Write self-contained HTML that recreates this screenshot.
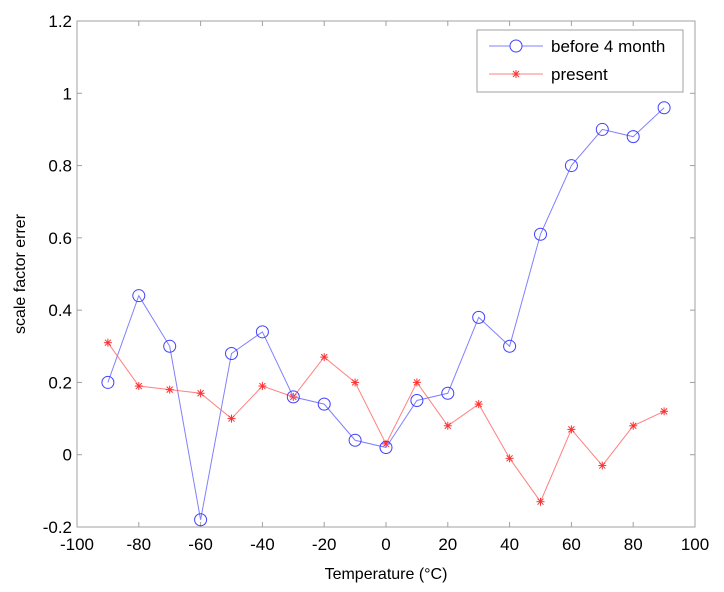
<!DOCTYPE html>
<html><head><meta charset="utf-8"><style>
body{margin:0;background:#fff;}
svg{display:block;font-family:"Liberation Sans",Arial,sans-serif;}
</style></head><body>
<svg id="chart" width="724" height="592"></svg>
<script>
const xTicks=[-100,-80,-60,-40,-20,0,20,40,60,80,100];
const yTicks=[-0.2,0,0.2,0.4,0.6,0.8,1,1.2];
const temps=[-90,-80,-70,-60,-50,-40,-30,-20,-10,0,10,20,30,40,50,60,70,80,90];
const before4Month=[0.2,0.44,0.30,-0.18,0.28,0.34,0.16,0.14,0.04,0.02,0.15,0.17,0.38,0.30,0.61,0.80,0.90,0.88,0.96];
const present=[0.31,0.19,0.18,0.17,0.10,0.19,0.16,0.27,0.20,0.03,0.20,0.08,0.14,-0.01,-0.13,0.07,-0.03,0.08,0.12];

const L=77,R=695,T=21,B=527;
const sx=v=>L+(v+100)/200*(R-L);
const sy=v=>B-(v+0.2)/1.4*(B-T);
const NS='http://www.w3.org/2000/svg';
const svg=document.getElementById('chart');
function mk(tag,attrs,parent){const e=document.createElementNS(NS,tag);for(const k in attrs)e.setAttribute(k,attrs[k]);(parent||svg).appendChild(e);return e;}

const frame=mk('rect',{x:L,y:T,width:R-L,height:B-T,fill:'none',stroke:'#a0a0a0','stroke-width':1});



xTicks.forEach(v=>{
  const x=sx(v);
  mk('line',{x1:x,y1:B,x2:x,y2:B-5,stroke:'#a0a0a0'});
  mk('line',{x1:x,y1:T,x2:x,y2:T+5,stroke:'#a0a0a0'});
  const t=mk('text',{x:x,y:B+23,'text-anchor':'middle','font-size':17,fill:'#000'});
  t.textContent=v;
  
  
});
yTicks.forEach(v=>{
  const y=sy(v);
  mk('line',{x1:L,y1:y,x2:L+5,y2:y,stroke:'#a0a0a0'});
  mk('line',{x1:R,y1:y,x2:R-5,y2:y,stroke:'#a0a0a0'});
  const t=mk('text',{x:L-5,y:y+6,'text-anchor':'end','font-size':17,fill:'#000'});
  t.textContent=String(Math.round(v*10)/10);
  
  
});

const xt=mk('text',{x:(L+R)/2,y:B+52,'text-anchor':'middle','font-size':16,fill:'#000'});
xt.textContent='Temperature (\u00B0C)';


const yt=mk('text',{x:0,y:0,transform:`translate(25,${(T+B)/2}) rotate(-90)`,'text-anchor':'middle','font-size':16,fill:'#000'});
yt.textContent='scale factor errer';



function star(g,x,y,c){
  const r=4;
  mk('line',{x1:x-r,y1:y,x2:x+r,y2:y,stroke:c},g);
  mk('line',{x1:x,y1:y-r,x2:x,y2:y+r,stroke:c},g);
  mk('line',{x1:x-3,y1:y-3,x2:x+3,y2:y+3,stroke:c},g);
  mk('line',{x1:x-3,y1:y+3,x2:x+3,y2:y-3,stroke:c},g);
}

const gp=mk('g',{});


mk('polyline',{points:temps.map((t,i)=>sx(t)+','+sy(present[i])).join(' '),fill:'none',stroke:'#ff8080','stroke-width':1},gp);
temps.forEach((t,i)=>star(gp,sx(t),sy(present[i]),'#ff3030'));

const gb=mk('g',{});


mk('polyline',{points:temps.map((t,i)=>sx(t)+','+sy(before4Month[i])).join(' '),fill:'none',stroke:'#8080ff','stroke-width':1},gb);
temps.forEach((t,i)=>{
  const c=mk('circle',{cx:sx(t),cy:sy(before4Month[i]),r:6,fill:'none',stroke:'#4040ff','stroke-width':1},gb);
  
  
});

const lg=mk('g',{});


mk('rect',{x:477,y:30,width:206,height:62,fill:'#fff',stroke:'#a0a0a0'},lg);
mk('line',{x1:489,y1:46,x2:543,y2:46,stroke:'#8080ff'},lg);
mk('circle',{cx:516,cy:46,r:6,fill:'#fff',stroke:'#4040ff'},lg);
const l1=mk('text',{x:551,y:52,'font-size':17,fill:'#000'},lg);
l1.textContent='before 4 month';


mk('line',{x1:489,y1:74,x2:543,y2:74,stroke:'#ff8080'},lg);
star(lg,516,74,'#ff3030');
const l2=mk('text',{x:551,y:80,'font-size':17,fill:'#000'},lg);
l2.textContent='present';


</script>
</body></html>
